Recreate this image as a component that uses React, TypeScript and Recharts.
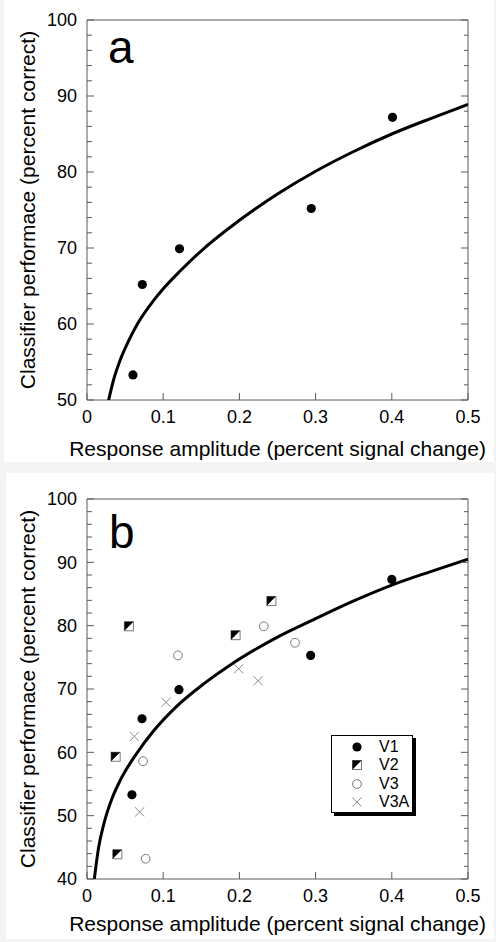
import React from 'react'
import { ComposedChart, Line, Scatter, XAxis, YAxis, ReferenceArea } from 'recharts'

const FONT = '"Liberation Sans", Arial, Helvetica, sans-serif'
const AXIS_GREY = '#5a5a5a'
const PLOT_W = 381 // 496 - left margin - y axis width - right margin

// axis ticks
const xTicks = [0, 0.1, 0.2, 0.3, 0.4, 0.5]
const yTicksA = [50, 52, 54, 56, 58, 60, 62, 64, 66, 68, 70, 72, 74, 76, 78, 80, 82, 84, 86, 88, 90, 92, 94, 96, 98, 100]
const yTicksB = [40, 42, 44, 46, 48, 50, 52, 54, 56, 58, 60, 62, 64, 66, 68, 70, 72, 74, 76, 78, 80, 82, 84, 86, 88, 90, 92, 94, 96, 98, 100]

// fitted curves
const fitA = [
  { x: 0.0284, y: 50 }, { x: 0.035, y: 52.7 }, { x: 0.0437, y: 55.3 }, { x: 0.0547, y: 57.8 },
  { x: 0.0656, y: 59.9 }, { x: 0.0875, y: 63.1 }, { x: 0.1006, y: 64.7 }, { x: 0.1225, y: 67.0 },
  { x: 0.153, y: 69.9 }, { x: 0.1837, y: 72.4 }, { x: 0.2231, y: 75.3 }, { x: 0.25, y: 77.1 },
  { x: 0.3, y: 80.1 }, { x: 0.35, y: 82.7 }, { x: 0.4, y: 85.0 }, { x: 0.45, y: 87.0 }, { x: 0.5, y: 88.9 },
]
const fitB = [
  { x: 0.0096, y: 40 }, { x: 0.0153, y: 45.0 }, { x: 0.0219, y: 48.6 }, { x: 0.0328, y: 52.7 },
  { x: 0.0437, y: 55.6 }, { x: 0.0656, y: 59.9 }, { x: 0.0875, y: 63.4 }, { x: 0.118, y: 67.3 },
  { x: 0.153, y: 70.8 }, { x: 0.188, y: 73.8 }, { x: 0.223, y: 76.4 }, { x: 0.25, y: 78.2 },
  { x: 0.3, y: 81.1 }, { x: 0.35, y: 83.9 }, { x: 0.4, y: 86.4 }, { x: 0.45, y: 88.5 }, { x: 0.5, y: 90.5 },
]

// panel a: V1 only
const v1A = [
  { x: 0.0603, y: 53.3 }, { x: 0.0726, y: 65.2 }, { x: 0.1214, y: 69.9 }, { x: 0.2943, y: 75.2 }, { x: 0.4009, y: 87.2 },
]
// panel b: all areas
const v1B = [
  { x: 0.059, y: 53.3 }, { x: 0.0722, y: 65.3 }, { x: 0.1207, y: 69.9 }, { x: 0.2935, y: 75.3 }, { x: 0.4, y: 87.3 },
]
const v2B = [
  { x: 0.055, y: 79.9 }, { x: 0.0376, y: 59.3 }, { x: 0.0398, y: 43.9 }, { x: 0.195, y: 78.5 }, { x: 0.242, y: 83.9 },
]
const v3B = [
  { x: 0.0735, y: 58.6 }, { x: 0.077, y: 43.2 }, { x: 0.1194, y: 75.3 }, { x: 0.232, y: 79.9 }, { x: 0.273, y: 77.3 },
]
const v3aB = [
  { x: 0.0621, y: 62.5 }, { x: 0.0691, y: 50.6 }, { x: 0.1037, y: 67.9 }, { x: 0.199, y: 73.2 }, { x: 0.2245, y: 71.3 },
]

const legendNames = ['V1', 'V2', 'V3', 'V3A']

function FilledDot({ cx, cy }: any) {
  return <circle cx={cx} cy={cy} r={4.6} fill="#000" />
}

function HalfSquare({ cx, cy }: any) {
  const s = 4.5
  return (
    <g>
      <rect x={cx - s} y={cy - s} width={2 * s} height={2 * s} fill="#fff" stroke="#7a7a7a" strokeWidth={1} />
      <path d={`M${cx - s},${cy - s}L${cx + s},${cy - s}L${cx - s},${cy + s}Z`} fill="#000" />
    </g>
  )
}

function OpenCircle({ cx, cy }: any) {
  return <circle cx={cx} cy={cy} r={4.4} fill="none" stroke="#7a7a7a" strokeWidth={1} />
}

function Cross({ cx, cy }: any) {
  const s = 4.6
  return (
    <g stroke="#8a8a8a" strokeWidth={1}>
      <line x1={cx - s} y1={cy - s} x2={cx + s} y2={cy + s} />
      <line x1={cx - s} y1={cy + s} x2={cx + s} y2={cy - s} />
    </g>
  )
}

const shapes = [FilledDot, HalfSquare, OpenCircle, Cross]

// bottom axis: inward tick + label below
function XTick({ x, y, payload }: any) {
  const axisY = y - 10
  return (
    <g>
      <line x1={x} x2={x} y1={axisY} y2={axisY - 7} stroke={AXIS_GREY} strokeWidth={1} />
      <text x={x} y={y} dy="0.71em" textAnchor="middle" fill="#000" fontSize={18} fontFamily={FONT}>
        {payload.value}
      </text>
    </g>
  )
}

// left axis: inward ticks on both frame sides, labels every 10
function YTick({ x, y, payload }: any) {
  const left = x + 10
  const right = left + PLOT_W
  const major = payload.value % 10 === 0
  return (
    <g>
      <line x1={left} x2={left + (major ? 7 : 5)} y1={y} y2={y} stroke={AXIS_GREY} strokeWidth={1} />
      <line x1={right} x2={right - (major ? 7 : 4)} y1={y} y2={y} stroke={AXIS_GREY} strokeWidth={1} />
      {major && (
        <text x={x} y={y} dy="0.355em" textAnchor="end" fill="#000" fontSize={18} fontFamily={FONT}>
          {payload.value}
        </text>
      )}
    </g>
  )
}

function Legend() {
  return (
    <div
      style={{
        position: 'absolute',
        left: 331,
        top: 265,
        width: 82,
        height: 78,
        boxSizing: 'border-box',
        border: '1px solid #000',
        background: '#fff',
        boxShadow: '3px 3px 0 #000',
        fontFamily: FONT,
      }}
    >
      {legendNames.map((name, i) => {
        const Shape = shapes[i]
        return (
          <div key={name} style={{ position: 'absolute', left: 0, top: 2 + i * 18.3, height: 18, width: 80 }}>
            <svg width={20} height={18} style={{ position: 'absolute', left: 15, top: 0 }}>
              <Shape cx={10} cy={9} />
            </svg>
            <span style={{ position: 'absolute', left: 47, top: 0, lineHeight: '18px', fontSize: 16, color: '#000' }}>
              {name}
            </span>
          </div>
        )
      })}
    </div>
  )
}

function Panel({ height, top, bottomAxis, yDomain, yTicks, fit, series, labelOffset }: any) {
  return (
    <ComposedChart
      width={496}
      height={height}
      margin={{ top, right: 28, bottom: 0, left: 27 }}
      style={{ fontFamily: FONT }}
    >
      <XAxis
        xAxisId="main"
        type="number"
        dataKey="x"
        domain={[0, 0.5]}
        ticks={xTicks}
        allowDataOverflow
        axisLine={false}
        tickLine={false}
        tickSize={0}
        tickMargin={10}
        tick={<XTick />}
        height={bottomAxis}
        label={{
          value: 'Response amplitude (percent signal change)',
          position: 'insideBottom',
          offset: labelOffset,
          style: { fill: '#000', fontSize: 21, fontFamily: FONT },
        }}
      />
      <YAxis
        yAxisId="main"
        type="number"
        dataKey="y"
        domain={yDomain}
        ticks={yTicks}
        interval={0}
        allowDataOverflow
        axisLine={false}
        tickLine={false}
        tickSize={0}
        tickMargin={10}
        tick={<YTick />}
        width={60}
        label={{
          value: 'Classifier performace (percent correct)',
          angle: -90,
          position: 'insideLeft',
          offset: 1,
          style: { fill: '#000', fontSize: 21, fontFamily: FONT, textAnchor: 'middle' },
        }}
      />
      <ReferenceArea
        xAxisId="main"
        yAxisId="main"
        x1={0}
        x2={0.5}
        y1={yDomain[0]}
        y2={yDomain[1]}
        fill="none"
        fillOpacity={0}
        stroke={AXIS_GREY}
        strokeWidth={1}
      />
      <Line
        xAxisId="main"
        yAxisId="main"
        data={fit}
        dataKey="y"
        type="monotone"
        stroke="#000"
        strokeWidth={3}
        dot={false}
        activeDot={false}
        isAnimationActive={false}
      />
      {series.map((s: any) => (
        <Scatter
          key={s.name}
          name={s.name}
          xAxisId="main"
          yAxisId="main"
          data={s.data}
          shape={s.shape}
          isAnimationActive={false}
        />
      ))}
    </ComposedChart>
  )
}

export default function App() {
  return (
    <div style={{ position: 'absolute', left: 0, top: 0, width: 496, height: 942, background: '#f4f4f4', overflow: 'hidden' }}>
      <div style={{ position: 'absolute', left: 4, top: 0, width: 490, height: 462, background: '#fff' }} />
      <div style={{ position: 'absolute', left: 6, top: 473, width: 488, height: 466, background: '#fff' }} />

      <div style={{ position: 'absolute', left: 0, top: 0 }}>
        <Panel
          height={468}
          top={20}
          bottomAxis={68}
          yDomain={[50, 100]}
          yTicks={yTicksA}
          fit={fitA}
          labelOffset={12}
          series={[{ name: 'V1', data: v1A, shape: FilledDot }]}
        />
        <div style={{ position: 'absolute', left: 108, top: 24, fontSize: 46, lineHeight: '46px', fontFamily: FONT }}>a</div>
      </div>

      <div style={{ position: 'absolute', left: 0, top: 470 }}>
        <Panel
          height={472}
          top={29}
          bottomAxis={63}
          yDomain={[40, 100]}
          yTicks={yTicksB}
          fit={fitB}
          labelOffset={11}
          series={[
            { name: 'V1', data: v1B, shape: FilledDot },
            { name: 'V2', data: v2B, shape: HalfSquare },
            { name: 'V3', data: v3B, shape: OpenCircle },
            { name: 'V3A', data: v3aB, shape: Cross },
          ]}
        />
        <div style={{ position: 'absolute', left: 109, top: 39, fontSize: 46, lineHeight: '46px', fontFamily: FONT }}>b</div>
        <Legend />
      </div>
    </div>
  )
}
